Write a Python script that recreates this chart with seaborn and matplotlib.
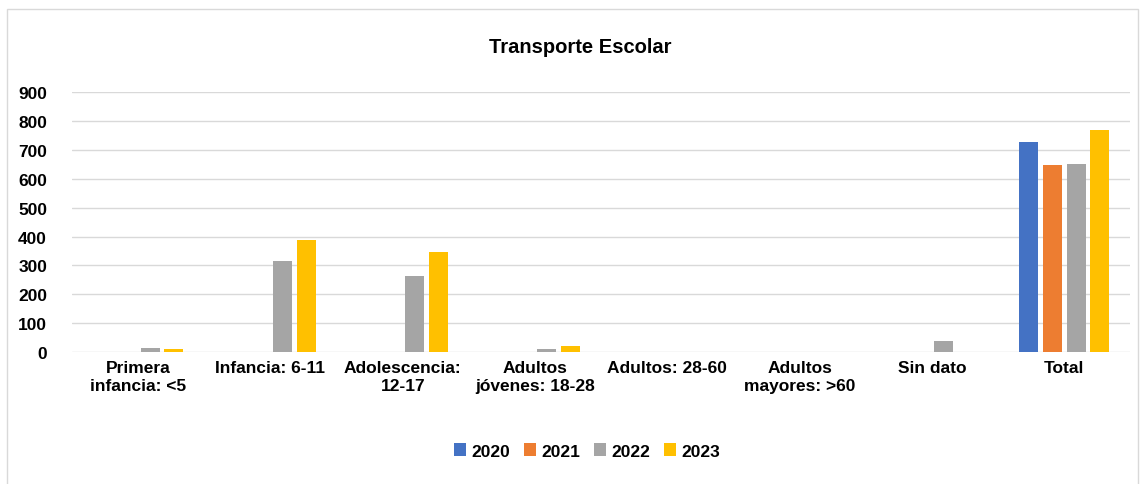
import matplotlib
matplotlib.use("Agg")
import matplotlib.pyplot as plt
import seaborn as sns
import pandas as pd
from matplotlib.patches import Rectangle

categories = ["Primera\ninfancia: <5", "Infancia: 6-11", "Adolescencia:\n12-17",
              "Adultos\njóvenes: 18-28", "Adultos: 28-60", "Adultos\nmayores: >60",
              "Sin dato", "Total"]
years = ["2020", "2021", "2022", "2023"]
v2020 = [0, 0, 0, 0, 0, 0, 0, 729]
v2021 = [0, 0, 0, 0, 0, 0, 0, 648]
v2022 = [14, 315, 265, 11, 0, 0, 40, 652]
v2023 = [9, 388, 347, 22, 0, 0, 0, 769]
colors = ["#4472C4", "#ED7D31", "#A5A5A5", "#FFC000"]

rows = []
for y, vals in zip(years, [v2020, v2021, v2022, v2023]):
    for c, v in zip(categories, vals):
        rows.append({"cat": c, "year": y, "value": v})
df = pd.DataFrame(rows)

sns.set_style("white")
plt.rcParams["font.family"] = ["Liberation Sans", "DejaVu Sans"]
plt.rcParams["font.weight"] = "bold"
plt.rcParams["text.color"] = "black"
plt.rcParams["xtick.color"] = "black"
plt.rcParams["ytick.color"] = "black"

fig = plt.figure(figsize=(11.44, 4.85), dpi=100)
ax = fig.add_axes([0.063, 0.272, 0.925, 0.536])

sns.barplot(data=df, x="cat", y="value", hue="year", hue_order=years,
            order=categories, palette=colors, width=0.72, gap=0.2,
            ax=ax, saturation=1, legend=True, linewidth=0)

ax.set_ylim(0, 900)
ax.set_yticks(range(0, 901, 100))
ax.yaxis.grid(True, color="#d9d9d9", linewidth=1.0)
ax.set_axisbelow(True)
for s in ax.spines.values():
    s.set_visible(False)
ax.set_xlabel("")
ax.set_ylabel("")
ax.tick_params(axis="both", length=0, labelsize=12.5, labelcolor="black")
ax.tick_params(axis="y", pad=18)
ax.tick_params(axis="x", pad=6)
for lab in ax.get_xticklabels() + ax.get_yticklabels():
    lab.set_fontweight("bold")

fig.text(0.507, 0.903, "Transporte Escolar", ha="center", va="center",
         fontsize=14.5, fontweight="bold", color="black")

h, l = ax.get_legend_handles_labels()
ax.get_legend().remove()
fig.legend(h, l, loc="center", bbox_to_anchor=(0.513, 0.068), ncol=4,
           frameon=False, prop={"size": 12.5, "weight": "bold"},
           handlelength=0.7, handleheight=0.7, handletextpad=0.3, columnspacing=0.8)

fig.patches.append(Rectangle((7 / 1144, -0.01), 1131 / 1144, 1 - 10 / 485 + 0.01,
                             transform=fig.transFigure, fill=False,
                             edgecolor="#d9d9d9", linewidth=1.0))

fig.savefig("out.png", dpi=100)
